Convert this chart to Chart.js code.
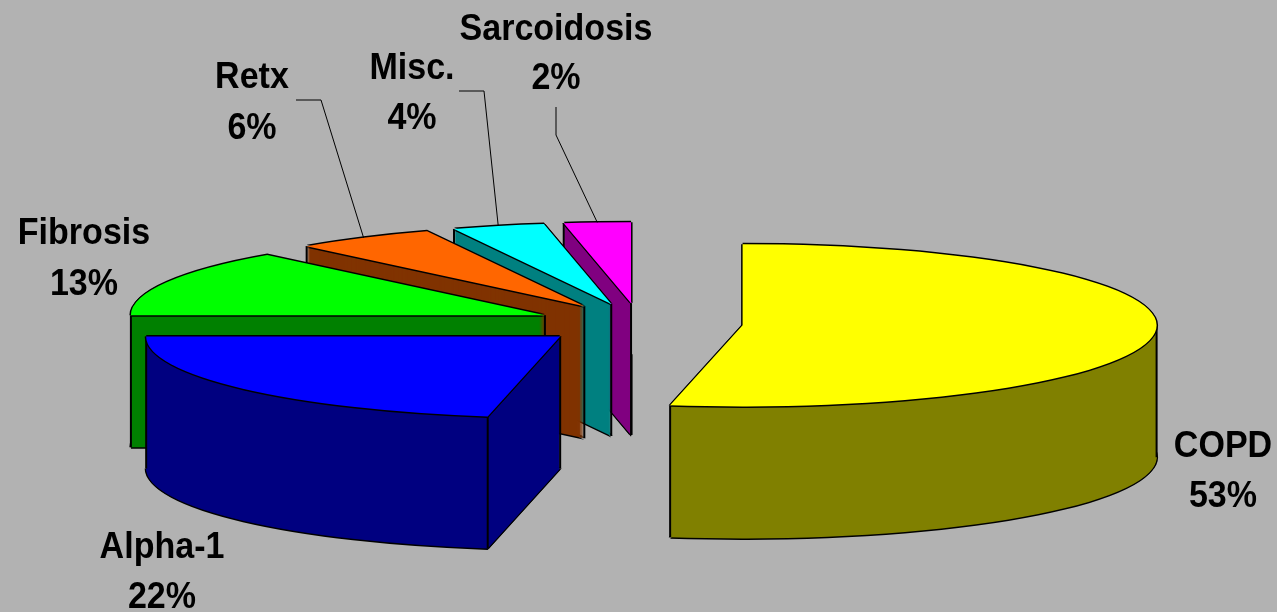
<!DOCTYPE html>
<html>
<head>
<meta charset="utf-8">
<title>Exploded pie</title>
<script src="https://cdn.jsdelivr.net/npm/chart.js@4/dist/chart.umd.min.js"></script>
<style>
  html, body { margin: 0; padding: 0; background: #b2b2b2; }
  canvas { display: block; }
</style>
</head>
<body>
<canvas id="pie" width="1277" height="612"></canvas>
<script>
// Data (slices run clockwise from 12 o'clock)
const categories = ['COPD', 'Alpha-1', 'Fibrosis', 'Retx', 'Misc.', 'Sarcoidosis'];
const shares = [52.8, 22.2, 13.3, 5.5, 3.6, 2.6];
const shareLabels = ['53%', '22%', '13%', '6%', '4%', '2%'];
const topColors = ['#ffff00', '#0000ff', '#00ff00', '#ff6600', '#00ffff', '#ff00ff'];
const wallColors = ['#808000', '#000080', '#008000', '#803300', '#008080', '#800080'];

// Look of the fake 3D
const tilt = 0.196;       // y squash of the pie plane
const depth = 132;        // wall height, px
const explode = 103.5;    // how far each slice is pulled out, px

// Label centre x and the two baselines, same order as categories
const labelX = [1223, 162, 84, 252, 412, 556];
const labelY1 = [457, 558, 244, 88, 79, 40];
const labelY2 = [507, 608, 295, 139, 129, 89];
// Elbows of the leader lines, only the small slices have them
const leaders = { 3: [[296, 100], [321, 100]], 4: [[459, 91], [484, 91]], 5: [[556, 107], [556, 135]] };

function explodedCentre(arc) {
    const mid = (arc.startAngle + arc.endAngle) / 2;
    return { x: arc.x + Math.cos(mid) * explode, y: arc.y + Math.sin(mid) * explode * tilt };
}

function rimPoint(arc, angle) {
    const c = explodedCentre(arc);
    return { x: c.x + Math.cos(angle) * arc.outerRadius, y: c.y + Math.sin(angle) * arc.outerRadius * tilt };
}

// Let the arc element draw itself, squashed and shifted
function paintArc(ctx, arc, color, dx, dy) {
    const c = explodedCentre(arc);
    const shape = Object.create(arc);
    shape.options = Object.assign({}, arc.options, { backgroundColor: color, borderWidth: 0 });
    ctx.save();
    ctx.translate(dx + c.x - arc.x, c.y + dy);
    ctx.scale(1, tilt);
    ctx.translate(0, -arc.y);
    shape.draw(ctx);
    ctx.restore();
}

// Strokes would get squashed too, so the outline is the arc in black nudged around
function paintOutlined(ctx, arc, color, dy) {
    const n = 1.5;
    [[-n, 0], [n, 0], [0, -n], [0, n]].forEach(o => paintArc(ctx, arc, '#000', o[0], dy + o[1]));
    paintArc(ctx, arc, color, 0, dy);
}

function wallEdges(ctx, arc) {
    const top = Math.PI / 2;
    const start = arc.startAngle + top;
    const end = arc.endAngle + top;
    const xs = [];
    const c = explodedCentre(arc);
    if (!(start < Math.PI && end > Math.PI)) xs.push(c);
    if (start >= top) xs.push(rimPoint(arc, arc.startAngle));
    if (end >= top && end <= 3 * top + 0.001) xs.push(rimPoint(arc, arc.endAngle));
    if (start < top && end > top) xs.push(rimPoint(arc, 0));
    ctx.beginPath();
    xs.forEach(p => {
        ctx.moveTo(p.x, p.y);
        ctx.lineTo(p.x, p.y + depth);
    });
    ctx.strokeStyle = '#000';
    ctx.lineWidth = 2;
    ctx.stroke();
}

const exploded3d = {
    id: 'exploded3d',
    beforeDatasetDraw(chart) {
        const ctx = chart.ctx;
        const arcs = chart.getDatasetMeta(0).data;
        // back to front, the last slices sit behind
        for (let i = arcs.length - 1; i >= 0; i--) {
            paintOutlined(ctx, arcs[i], wallColors[i], depth);
            for (let d = depth - 1; d > 0; d--) {
                paintArc(ctx, arcs[i], wallColors[i], 0, d);
            }
            wallEdges(ctx, arcs[i]);
            paintOutlined(ctx, arcs[i], topColors[i], 0);
        }
        return false;
    },
    afterDatasetsDraw(chart) {
        const ctx = chart.ctx;
        const arcs = chart.getDatasetMeta(0).data;
        ctx.save();
        ctx.strokeStyle = '#000';
        ctx.lineWidth = 1;
        Object.keys(leaders).forEach(k => {
            const arc = arcs[k];
            const rim = rimPoint(arc, (arc.startAngle + arc.endAngle) / 2);
            ctx.beginPath();
            ctx.moveTo(leaders[k][0][0], leaders[k][0][1]);
            ctx.lineTo(leaders[k][1][0], leaders[k][1][1]);
            ctx.lineTo(rim.x, rim.y);
            ctx.stroke();
        });
        ctx.fillStyle = '#000';
        ctx.textAlign = 'center';
        ctx.font = 'bold 37px "Liberation Sans", Arial, sans-serif';
        categories.forEach((name, i) => {
            ctx.save();
            ctx.translate(labelX[i], 0);
            ctx.scale(0.92, 1);
            ctx.fillText(name, 0, labelY1[i]);
            ctx.fillText(shareLabels[i], 0, labelY2[i]);
            ctx.restore();
        });
        ctx.restore();
    }
};

new Chart(document.getElementById('pie').getContext('2d'), {
    type: 'pie',
    data: {
        labels: categories,
        datasets: [{
            data: shares,
            backgroundColor: topColors,
            borderWidth: 0
        }]
    },
    options: {
        responsive: false,
        animation: false,
        radius: 414,
        layout: { padding: { left: 2, top: 35 } },
        plugins: {
            legend: { display: false },
            tooltip: { enabled: false }
        }
    },
    plugins: [exploded3d]
});
</script>
</body>
</html>
